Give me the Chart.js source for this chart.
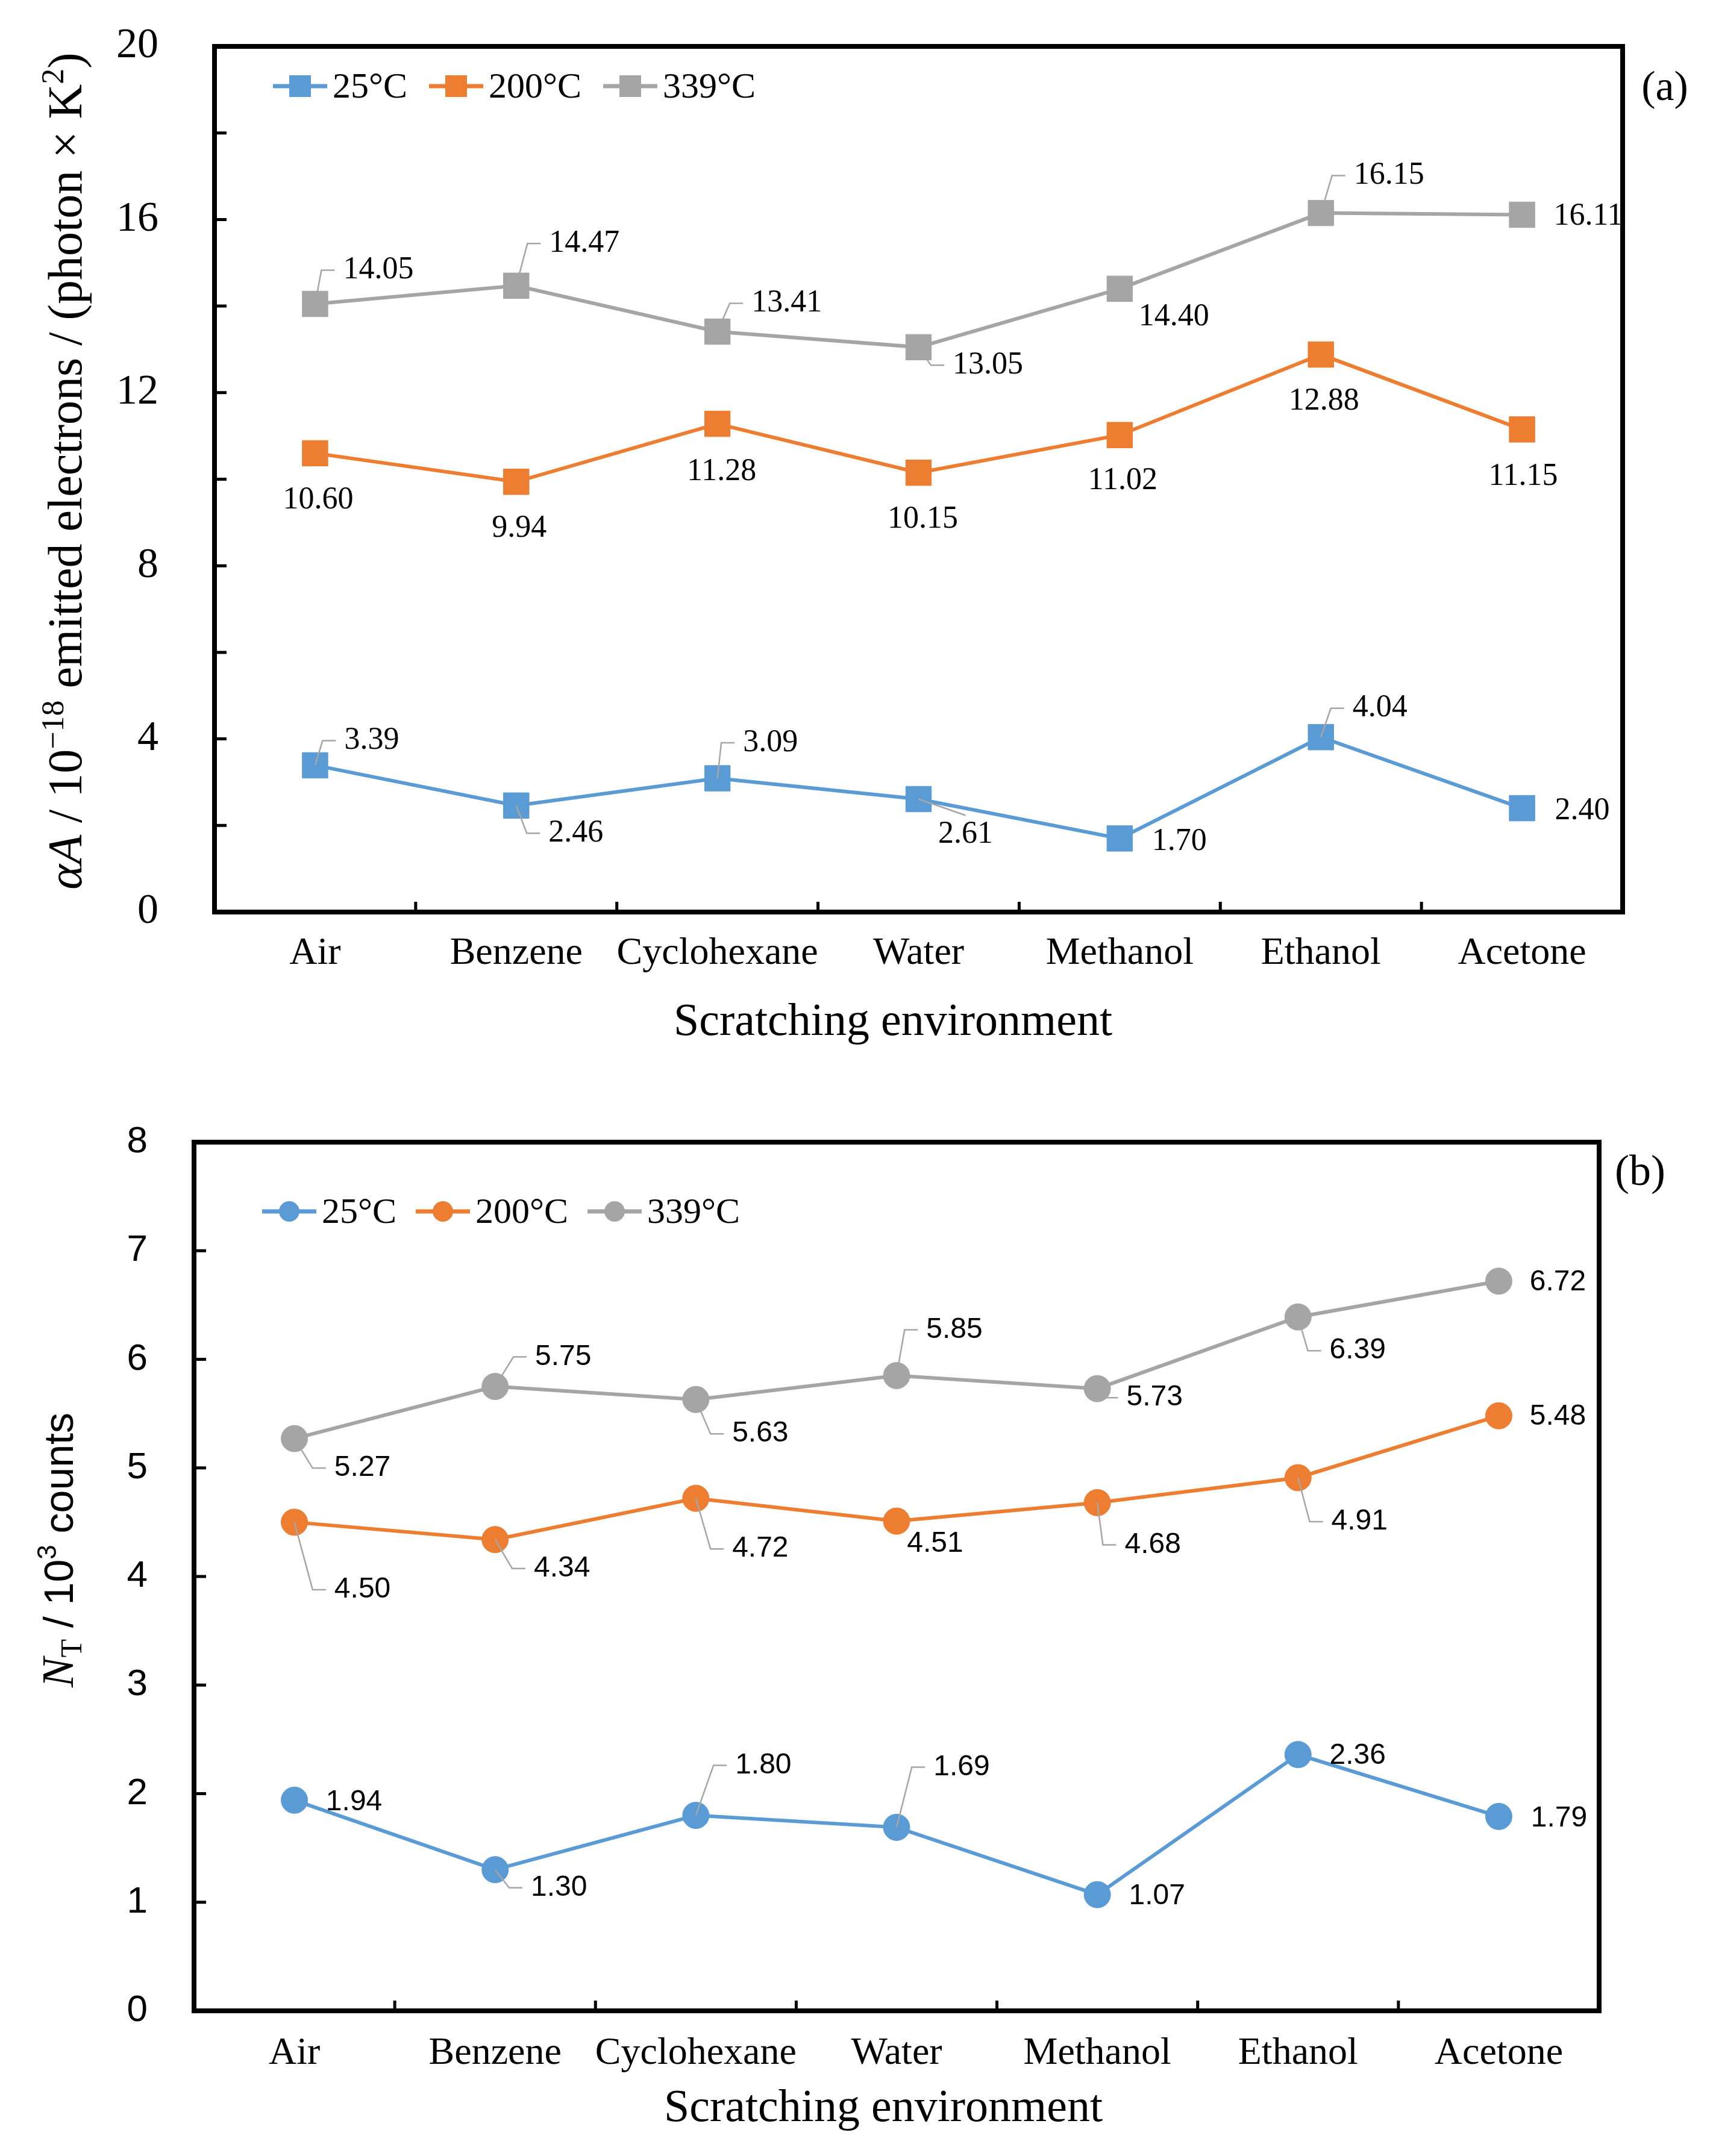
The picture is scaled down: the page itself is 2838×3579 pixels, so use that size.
<!DOCTYPE html>
<html>
<head>
<meta charset="utf-8">
<script src="https://cdn.jsdelivr.net/npm/chart.js@4.4.1/dist/chart.umd.min.js"></script>
<style>
  html, body { margin: 0; padding: 0; background: #fff; }
  #wrap { position: relative; width: 2838px; height: 3579px; background: #fff; }
  canvas { position: absolute; left: 0; }
</style>
</head>
<body>
<div id="wrap">
  <canvas id="chartA" width="2838" height="1790" style="top:0;width:2838px;height:1790px"></canvas>
  <canvas id="chartB" width="2838" height="1789" style="top:1790px;width:2838px;height:1789px"></canvas>
</div>
<script>
const environments = ["Air", "Benzene", "Cyclohexane", "Water", "Methanol", "Ethanol", "Acetone"];
const seriesNames = ["25°C", "200°C", "339°C"];

// (a) alpha*A, 10^-18 emitted electrons / (photon x K^2)
const alphaA25 = [3.39, 2.46, 3.09, 2.61, 1.70, 4.04, 2.40];
const alphaA200 = [10.60, 9.94, 11.28, 10.15, 11.02, 12.88, 11.15];
const alphaA339 = [14.05, 14.47, 13.41, 13.05, 14.40, 16.15, 16.11];
const tickLabelsA = [0, 4, 8, 12, 16, 20];

// (b) N_T, 10^3 counts
const counts25 = [1.94, 1.30, 1.80, 1.69, 1.07, 2.36, 1.79];
const counts200 = [4.50, 4.34, 4.72, 4.51, 4.68, 4.91, 5.48];
const counts339 = [5.27, 5.75, 5.63, 5.85, 5.73, 6.39, 6.72];
const tickLabelsB = [0, 1, 2, 3, 4, 5, 6, 7, 8];

// where each value label sits next to its point: [dx, dy, leader]
// leader 0 = none, 1 = elbow line, 2 = straight line to label top
const labelPosA25 = [[94,-41,1],[99,46,1],[88,-59,1],[78,59,2],[99,5,0],[98,-48,1],[100,5,0]];
const labelPosA200 = [[5,78,0],[5,78,0],[7,80,0],[7,78,0],[5,76,0],[5,78,0],[2,78,0]];
const labelPosA339 = [[105,-56,1],[113,-70,1],[115,-47,1],[115,30,1],[90,47,0],[113,-62,1],[110,3,0]];
const labelPosB25 = [[99,3,0],[106,30,1],[112,-83,1],[108,-100,1],[99,3,0],[99,2,0],[100,3,0]];
const labelPosB200 = [[113,112,1],[111,48,1],[107,84,1],[64,38,0],[92,70,1],[102,73,1],[98,2,0]];
const labelPosB339 = [[113,49,1],[113,-49,1],[107,57,1],[96,-76,1],[95,15,1],[99,56,1],[98,2,0]];

const COLORS = ["#5B9BD5", "#ED7D31", "#A5A5A5"];
const SERIF = '"Liberation Serif", "Times New Roman", serif';
const SANS = '"Liberation Sans", Arial, sans-serif';

// draws text made of several styled pieces, centred on (cx, cy)
function richText(ctx, parts, cx, cy, rotate, base) {
  ctx.save();
  ctx.translate(cx, cy);
  if (rotate) ctx.rotate(-Math.PI / 2);
  ctx.textBaseline = "alphabetic";
  ctx.textAlign = "left";
  ctx.fillStyle = "#000";
  let total = 0;
  parts.forEach(p => { ctx.font = p.font; p.w = ctx.measureText(p.t).width; total += p.w; });
  let x = -total / 2;
  parts.forEach(p => { ctx.font = p.font; ctx.fillText(p.t, x, base + (p.dy || 0)); x += p.w; });
  ctx.restore();
}

const framePlugin = {
  id: "frame",
  afterDraw(chart) {
    const { ctx, chartArea: a, scales: { x, y } } = chart;
    ctx.save();
    ctx.strokeStyle = "#000";
    ctx.lineWidth = 5;
    ctx.beginPath();
    y.ticks.forEach(t => {
      const py = y.getPixelForValue(t.value);
      ctx.moveTo(a.left, py);
      ctx.lineTo(a.left + 20, py);
    });
    for (let i = 0; i < environments.length - 1; i++) {
      const px = x.getPixelForValue(i + 0.5);
      ctx.moveTo(px, a.bottom);
      ctx.lineTo(px, a.bottom - 17);
    }
    ctx.stroke();
    ctx.lineWidth = 8;
    ctx.strokeRect(a.left, a.top, a.right - a.left, a.bottom - a.top);
    ctx.restore();
  }
};

const valueLabelPlugin = {
  id: "valueLabels",
  afterDatasetsDraw(chart, args, opts) {
    const ctx = chart.ctx;
    ctx.save();
    ctx.font = opts.font;
    ctx.textAlign = "center";
    ctx.textBaseline = "middle";
    chart.data.datasets.forEach((ds, i) => {
      const meta = chart.getDatasetMeta(i);
      meta.data.forEach((pt, j) => {
        const [dx, dy, leader] = opts.positions[i][j];
        const text = ds.data[j].toFixed(2);
        const lx = pt.x + dx, ly = pt.y + dy;
        const left = lx - ctx.measureText(text).width / 2;
        if (leader) {
          ctx.strokeStyle = "#A6A6A6";
          ctx.lineWidth = 2.5;
          ctx.beginPath();
          ctx.moveTo(pt.x, pt.y);
          if (leader === 2) {
            ctx.lineTo(lx, ly - 32);
          } else {
            ctx.lineTo(left - 36, ly);
            ctx.lineTo(left - 14, ly);
          }
          ctx.stroke();
        }
        ctx.fillStyle = "#000";
        ctx.fillText(text, lx, ly);
      });
    });
    ctx.restore();
  }
};

const legendPlugin = {
  id: "lineLegend",
  afterDraw(chart, args, opts) {
    const ctx = chart.ctx;
    let x = opts.x;
    const y = opts.y;
    ctx.save();
    ctx.font = opts.font;
    ctx.textBaseline = "middle";
    ctx.textAlign = "left";
    chart.data.datasets.forEach(ds => {
      ctx.strokeStyle = ds.borderColor;
      ctx.lineWidth = 7;
      ctx.beginPath();
      ctx.moveTo(x, y);
      ctx.lineTo(x + 90, y);
      ctx.stroke();
      ctx.fillStyle = ds.borderColor;
      if (opts.shape === "rect") {
        ctx.fillRect(x + 27, y - 18, 36, 36);
      } else {
        ctx.beginPath();
        ctx.arc(x + 45, y, 17, 0, 2 * Math.PI);
        ctx.fill();
      }
      ctx.fillStyle = "#000";
      ctx.fillText(ds.label, x + 99, y + 3);
      x += 99 + ctx.measureText(ds.label).width + opts.gap;
    });
    ctx.restore();
  }
};

const titlePlugin = {
  id: "titles",
  afterDraw(chart, args, opts) {
    const ctx = chart.ctx;
    ctx.save();
    ctx.fillStyle = "#000";
    ctx.textAlign = "center";
    ctx.textBaseline = "middle";
    ctx.font = opts.xFont;
    ctx.fillText("Scratching environment", opts.xTitle[0], opts.xTitle[1]);
    ctx.font = opts.letterFont;
    ctx.fillText(opts.letter, opts.letterPos[0], opts.letterPos[1]);
    ctx.restore();
    richText(ctx, opts.yParts, opts.yTitle[0], opts.yTitle[1], true, opts.yBase);
  }
};

function lineSet(label, data, color, shape, radius) {
  return {
    label, data,
    borderColor: color,
    backgroundColor: color,
    borderWidth: 6,
    pointStyle: shape,
    pointRadius: radius,
    pointBackgroundColor: color,
    pointBorderColor: color,
    pointBorderWidth: 1,
    tension: 0,
    clip: false
  };
}

function panelOptions(p) {
  return {
    responsive: false,
    animation: false,
    devicePixelRatio: 1,
    layout: { padding: { left: 0, top: p.top, right: p.right, bottom: 0 } },
    plugins: {
      legend: { display: false },
      tooltip: { enabled: false },
      valueLabels: { positions: p.positions, font: p.labelFont },
      lineLegend: p.legend,
      titles: p.titles
    },
    scales: {
      x: {
        type: "category",
        offset: true,
        grid: { display: false, drawTicks: false },
        border: { display: false },
        ticks: {
          color: "#000",
          font: { family: SERIF, size: 64, lineHeight: 1.2 },
          padding: p.xPad,
          maxRotation: 0,
          autoSkip: false
        },
        afterFit: s => { s.height = p.xHeight; s.paddingLeft = 0; s.paddingRight = 0; }
      },
      y: {
        min: 0,
        max: p.max,
        grid: { display: false, drawTicks: false },
        border: { display: false },
        ticks: {
          stepSize: p.step,
          autoSkip: false,
          color: "#000",
          font: p.yTickFont,
          padding: p.yPad,
          callback: v => p.tickLabels.includes(v) ? String(v) : ""
        },
        // keep the plot box exactly where the layout padding puts it
        afterFit: s => { s.width = p.yWidth; s.paddingTop = 0; s.paddingBottom = 0; }
      }
    }
  };
}

new Chart(document.getElementById("chartA"), {
  type: "line",
  data: {
    labels: environments,
    datasets: [
      lineSet(seriesNames[0], alphaA25, COLORS[0], "rect", 30),
      lineSet(seriesNames[1], alphaA200, COLORS[1], "rect", 30),
      lineSet(seriesNames[2], alphaA339, COLORS[2], "rect", 30)
    ]
  },
  options: panelOptions({
    top: 77, right: 145, yWidth: 356, xHeight: 276,
    max: 20, step: 2, tickLabels: tickLabelsA,
    xPad: 31, yPad: 93,
    yTickFont: { family: SERIF, size: 70 },
    positions: [labelPosA25, labelPosA200, labelPosA339],
    labelFont: "52px " + SERIF,
    legend: { x: 453, y: 143, shape: "rect", font: "60px " + SERIF, gap: 36 },
    titles: {
      xTitle: [1482, 1698], xFont: "76px " + SERIF,
      letter: "(a)", letterPos: [2763, 148], letterFont: "70px " + SERIF,
      yTitle: [108, 782], yBase: 27,
      yParts: [
        { t: "αA", font: "italic 80px " + SERIF },
        { t: " / 10", font: "80px " + SERIF },
        { t: "−18", font: "52px " + SERIF, dy: -30 },
        { t: " emitted electrons / (photon × K", font: "80px " + SERIF },
        { t: "2", font: "52px " + SERIF, dy: -30 },
        { t: ")", font: "80px " + SERIF }
      ]
    }
  }),
  plugins: [valueLabelPlugin, framePlugin, legendPlugin, titlePlugin]
});

new Chart(document.getElementById("chartB"), {
  type: "line",
  data: {
    labels: environments,
    datasets: [
      lineSet(seriesNames[0], counts25, COLORS[0], "circle", 22),
      lineSet(seriesNames[1], counts200, COLORS[1], "circle", 22),
      lineSet(seriesNames[2], counts339, COLORS[2], "circle", 22)
    ]
  },
  options: panelOptions({
    top: 106, right: 184, yWidth: 322, xHeight: 241,
    max: 8, step: 1, tickLabels: tickLabelsB,
    xPad: 33, yPad: 77,
    yTickFont: { family: SANS, size: 62 },
    positions: [labelPosB25, labelPosB200, labelPosB339],
    labelFont: "48px " + SANS,
    legend: { x: 435, y: 221, shape: "circle", font: "60px " + SERIF, gap: 32 },
    titles: {
      xTitle: [1466, 1711], xFont: "76px " + SERIF,
      letter: "(b)", letterPos: [2722, 158], letterFont: "72px " + SERIF,
      yTitle: [96, 783], yBase: 25,
      yParts: [
        { t: "N", font: "italic 74px " + SERIF },
        { t: "T", font: "50px " + SERIF, dy: 14 },
        { t: " / 10", font: "68px " + SANS },
        { t: "3", font: "44px " + SANS, dy: -28 },
        { t: " counts", font: "68px " + SANS }
      ]
    }
  }),
  plugins: [valueLabelPlugin, framePlugin, legendPlugin, titlePlugin]
});
</script>
</body>
</html>
